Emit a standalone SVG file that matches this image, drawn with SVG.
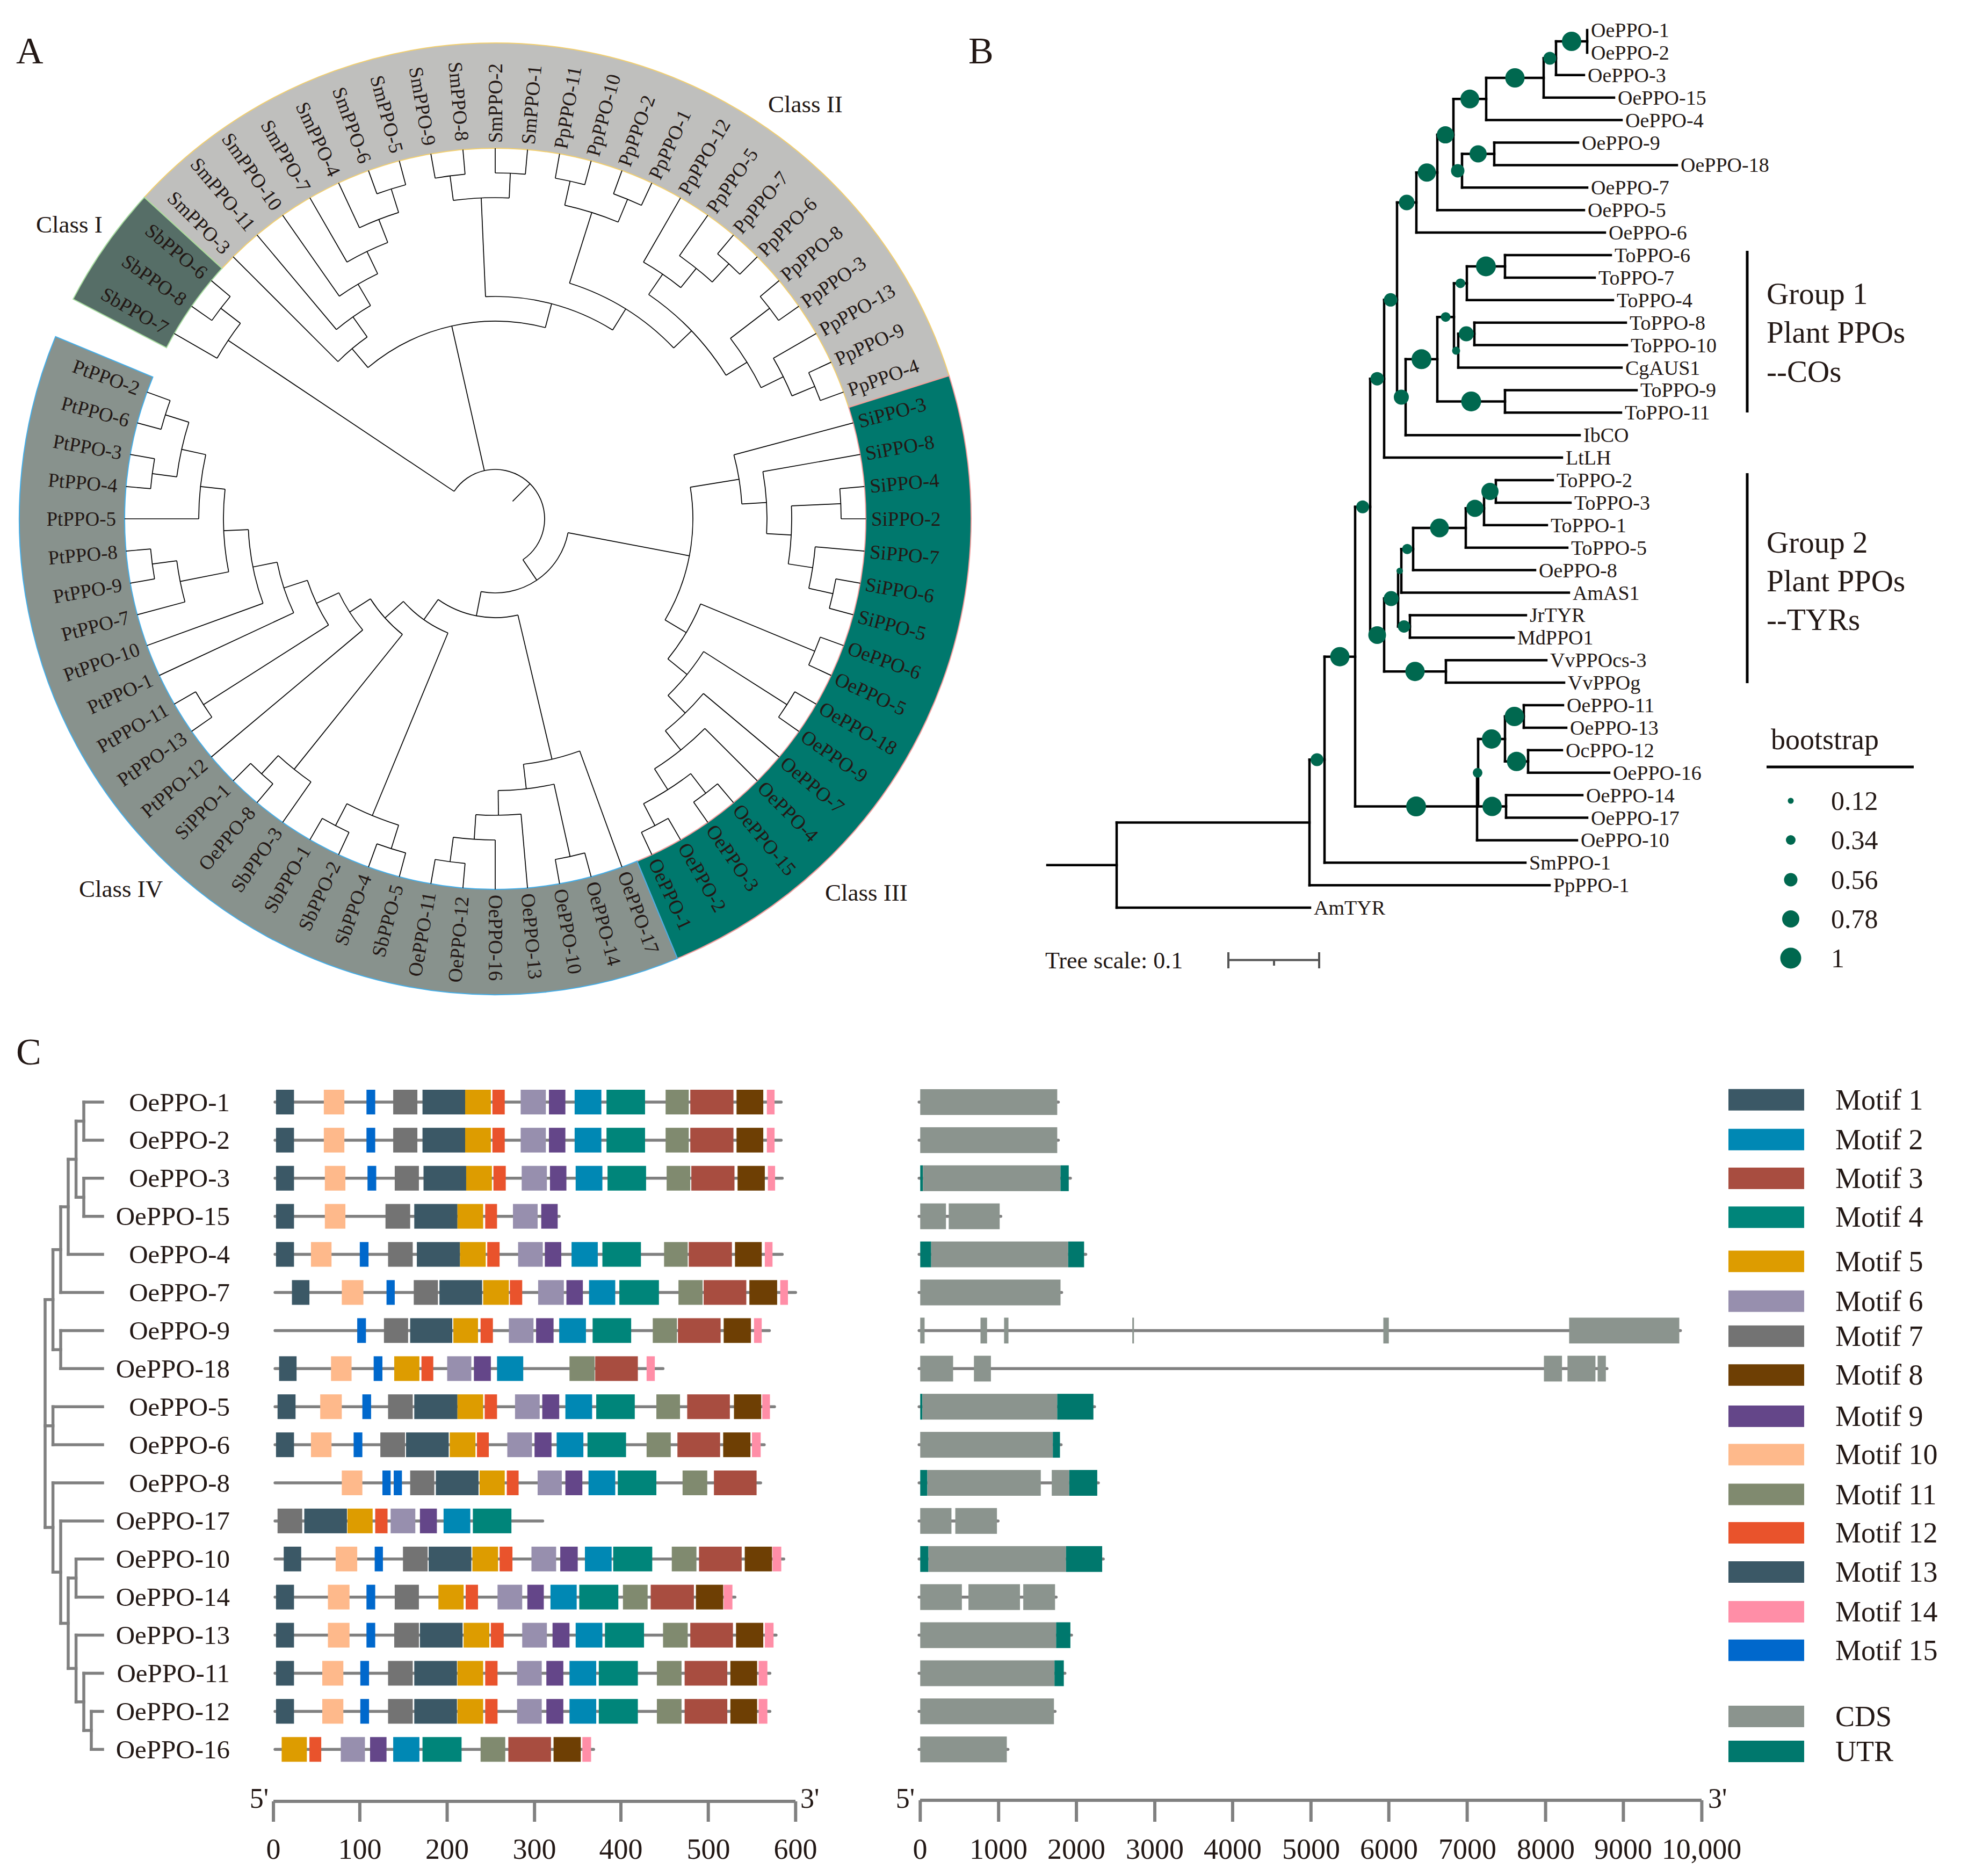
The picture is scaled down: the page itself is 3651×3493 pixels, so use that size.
<svg xmlns="http://www.w3.org/2000/svg" width="3651" height="3493" viewBox="0 0 3651 3493">
<style>
.t{font-family:"Liberation Serif","Times New Roman",serif;fill:#231815}
.br{fill:none;stroke:#000;stroke-width:1.7}
.bt{fill:none;stroke:#000;stroke-width:4.5;stroke-linecap:square}
.bs{fill:#00684f}
.gl{fill:none;stroke:#808080;stroke-width:5.5;stroke-linecap:round}
.ax{fill:none;stroke:#808080;stroke-width:6}
.m1{fill:#3b5866}.m2{fill:#0088b4}.m3{fill:#a84d40}.m4{fill:#00857a}.m5{fill:#dd9c00}
.m6{fill:#978fae}.m7{fill:#737373}.m8{fill:#6e3f04}.m9{fill:#644689}.m10{fill:#feb98b}
.m11{fill:#808a6f}.m12{fill:#e9532c}.m13{fill:#3b5866}.m14{fill:#ff8ea7}.m15{fill:#0068cc}
.cds{fill:#8b948e}.utr{fill:#00786d}
</style>
<rect width="3651" height="3493" fill="#fff"/>

<!-- Panel labels -->
<text class="t" x="30" y="118" font-size="70">A</text>
<text class="t" x="1803" y="118" font-size="70">B</text>
<text class="t" x="30" y="1982" font-size="70">C</text>

<!-- ============ PANEL A ============ -->
<g id="ringA">
<path id="classII-sector" d="M268.8 367.4A886 886 0 0 1 1767 699.6L1580.1 758.5A690 690 0 0 0 413.3 499.8Z" fill="#bfbfbd" stroke="#f2cf6f" stroke-width="2"/>
<path id="classIII-sector" d="M1767 699.6A886 886 0 0 1 1261.1 1784.6L1186 1603.5A690 690 0 0 0 1580.1 758.5Z" fill="#00786d" stroke="#f29c9c" stroke-width="2"/>
<path id="classIV-sector" d="M1261.1 1784.6A886 886 0 0 1 103.4 626.9L284.5 702A690 690 0 0 0 1186 1603.5Z" fill="#88928d" stroke="#45aee8" stroke-width="2"/>
<path id="classI-sector" d="M136.1 556.9A886 886 0 0 1 268.8 367.4L413.3 499.8A690 690 0 0 0 310 647.4Z" fill="#566e67" stroke="#a8dca0" stroke-width="2"/>
</g>

<g id="treeA" class="br" transform="translate(922 966)">
<!-- Class I -->
<path d="M644 0H690" transform="rotate(215)"/><path d="M644 0H690" transform="rotate(220)"/>
<path d="M598 0H690" transform="rotate(210)"/><path d="M598 0H644" transform="rotate(217.5)"/>
<path d="M92 0H598" transform="rotate(213.75)"/>
<circle r="644" pathLength="360" stroke-dasharray="5 999" transform="rotate(215)"/>
<circle r="598" pathLength="360" stroke-dasharray="7.5 999" transform="rotate(210)"/>
<!-- Class II -->
<path d="M644 0H690" transform="rotate(250)"/><path d="M644 0H690" transform="rotate(255)"/>
<path d="M598 0H690" transform="rotate(245)"/><path d="M598 0H644" transform="rotate(252.5)"/>
<path d="M552 0H690" transform="rotate(240)"/><path d="M552 0H598" transform="rotate(248.75)"/>
<path d="M506 0H690" transform="rotate(235)"/><path d="M506 0H552" transform="rotate(244.375)"/>
<path d="M460 0H690" transform="rotate(230)"/><path d="M460 0H506" transform="rotate(239.6875)"/>
<path d="M414 0H690" transform="rotate(225)"/><path d="M414 0H460" transform="rotate(234.84375)"/>
<path d="M644 0H690" transform="rotate(260)"/><path d="M644 0H690" transform="rotate(265)"/>
<path d="M644 0H690" transform="rotate(270)"/><path d="M644 0H690" transform="rotate(275)"/>
<path d="M598 0H644" transform="rotate(262.5)"/><path d="M598 0H644" transform="rotate(272.5)"/>
<path d="M644 0H690" transform="rotate(280)"/><path d="M644 0H690" transform="rotate(285)"/>
<path d="M644 0H690" transform="rotate(290)"/><path d="M644 0H690" transform="rotate(295)"/>
<path d="M598 0H644" transform="rotate(282.5)"/><path d="M598 0H644" transform="rotate(292.5)"/>
<path d="M644 0H690" transform="rotate(310)"/><path d="M644 0H690" transform="rotate(315)"/>
<path d="M598 0H690" transform="rotate(305)"/><path d="M598 0H644" transform="rotate(312.5)"/>
<path d="M552 0H690" transform="rotate(300)"/><path d="M552 0H598" transform="rotate(308.75)"/>
<path d="M644 0H690" transform="rotate(320)"/><path d="M644 0H690" transform="rotate(325)"/>
<path d="M644 0H690" transform="rotate(335)"/><path d="M644 0H690" transform="rotate(340)"/>
<path d="M598 0H690" transform="rotate(330)"/><path d="M598 0H644" transform="rotate(337.5)"/>
<path d="M552 0H644" transform="rotate(322.5)"/><path d="M552 0H598" transform="rotate(333.75)"/>
<path d="M506 0H552" transform="rotate(304.375)"/><path d="M506 0H552" transform="rotate(328.125)"/>
<path d="M460 0H598" transform="rotate(287.5)"/><path d="M460 0H506" transform="rotate(316.25)"/>
<path d="M414 0H598" transform="rotate(267.5)"/><path d="M414 0H460" transform="rotate(301.875)"/>
<path d="M368 0H414" transform="rotate(229.921875)"/><path d="M368 0H414" transform="rotate(284.6875)"/>
<path d="M92 0H368" transform="rotate(257.3047)"/>
<circle r="644" pathLength="360" stroke-dasharray="5 999" transform="rotate(250)"/>
<circle r="598" pathLength="360" stroke-dasharray="7.5 999" transform="rotate(245)"/>
<circle r="552" pathLength="360" stroke-dasharray="8.75 999" transform="rotate(240)"/>
<circle r="506" pathLength="360" stroke-dasharray="9.375 999" transform="rotate(235)"/>
<circle r="460" pathLength="360" stroke-dasharray="9.6875 999" transform="rotate(230)"/>
<circle r="414" pathLength="360" stroke-dasharray="9.84375 999" transform="rotate(225)"/>
<circle r="644" pathLength="360" stroke-dasharray="5 999" transform="rotate(260)"/>
<circle r="644" pathLength="360" stroke-dasharray="5 999" transform="rotate(270)"/>
<circle r="598" pathLength="360" stroke-dasharray="10 999" transform="rotate(262.5)"/>
<circle r="644" pathLength="360" stroke-dasharray="5 999" transform="rotate(280)"/>
<circle r="644" pathLength="360" stroke-dasharray="5 999" transform="rotate(290)"/>
<circle r="598" pathLength="360" stroke-dasharray="10 999" transform="rotate(282.5)"/>
<circle r="644" pathLength="360" stroke-dasharray="5 999" transform="rotate(310)"/>
<circle r="598" pathLength="360" stroke-dasharray="7.5 999" transform="rotate(305)"/>
<circle r="552" pathLength="360" stroke-dasharray="8.75 999" transform="rotate(300)"/>
<circle r="644" pathLength="360" stroke-dasharray="5 999" transform="rotate(320)"/>
<circle r="644" pathLength="360" stroke-dasharray="5 999" transform="rotate(335)"/>
<circle r="598" pathLength="360" stroke-dasharray="7.5 999" transform="rotate(330)"/>
<circle r="552" pathLength="360" stroke-dasharray="11.25 999" transform="rotate(322.5)"/>
<circle r="506" pathLength="360" stroke-dasharray="23.75 999" transform="rotate(304.375)"/>
<circle r="460" pathLength="360" stroke-dasharray="28.75 999" transform="rotate(287.5)"/>
<circle r="414" pathLength="360" stroke-dasharray="34.375 999" transform="rotate(267.5)"/>
<circle r="368" pathLength="360" stroke-dasharray="54.765625 999" transform="rotate(229.921875)"/>
<!-- Class III -->
<path d="M644 0H690" transform="rotate(355)"/><path d="M644 0H690"/>
<path d="M644 0H690" transform="rotate(10)"/><path d="M644 0H690" transform="rotate(15)"/>
<path d="M598 0H690" transform="rotate(5)"/><path d="M598 0H644" transform="rotate(12.5)"/>
<path d="M552 0H644" transform="rotate(357.5)"/><path d="M552 0H598" transform="rotate(8.75)"/>
<path d="M506 0H690" transform="rotate(350)"/><path d="M506 0H552" transform="rotate(3.125)"/>
<path d="M460 0H690" transform="rotate(345)"/><path d="M460 0H506" transform="rotate(356.5625)"/>
<path d="M644 0H690" transform="rotate(20)"/><path d="M644 0H690" transform="rotate(25)"/>
<path d="M644 0H690" transform="rotate(30)"/><path d="M644 0H690" transform="rotate(35)"/>
<path d="M644 0H690" transform="rotate(50)"/><path d="M644 0H690" transform="rotate(55)"/>
<path d="M644 0H690" transform="rotate(60)"/><path d="M644 0H690" transform="rotate(65)"/>
<path d="M598 0H644" transform="rotate(52.5)"/><path d="M598 0H644" transform="rotate(62.5)"/>
<path d="M552 0H690" transform="rotate(45)"/><path d="M552 0H598" transform="rotate(57.5)"/>
<path d="M506 0H690" transform="rotate(40)"/><path d="M506 0H552" transform="rotate(51.25)"/>
<path d="M460 0H644" transform="rotate(32.5)"/><path d="M460 0H506" transform="rotate(45.625)"/>
<path d="M414 0H644" transform="rotate(22.5)"/><path d="M414 0H460" transform="rotate(39.0625)"/>
<path d="M368 0H460" transform="rotate(350.78125)"/><path d="M368 0H414" transform="rotate(30.78125)"/>
<path d="M138 0H368" transform="rotate(10.78125)"/>
<circle r="644" pathLength="360" stroke-dasharray="5 999" transform="rotate(355)"/>
<circle r="644" pathLength="360" stroke-dasharray="5 999" transform="rotate(10)"/>
<circle r="598" pathLength="360" stroke-dasharray="7.5 999" transform="rotate(5)"/>
<circle r="552" pathLength="360" stroke-dasharray="11.25 999" transform="rotate(357.5)"/>
<circle r="506" pathLength="360" stroke-dasharray="13.125 999" transform="rotate(350)"/>
<circle r="460" pathLength="360" stroke-dasharray="11.5625 999" transform="rotate(345)"/>
<circle r="644" pathLength="360" stroke-dasharray="5 999" transform="rotate(20)"/>
<circle r="644" pathLength="360" stroke-dasharray="5 999" transform="rotate(30)"/>
<circle r="644" pathLength="360" stroke-dasharray="5 999" transform="rotate(50)"/>
<circle r="644" pathLength="360" stroke-dasharray="5 999" transform="rotate(60)"/>
<circle r="598" pathLength="360" stroke-dasharray="10 999" transform="rotate(52.5)"/>
<circle r="552" pathLength="360" stroke-dasharray="12.5 999" transform="rotate(45)"/>
<circle r="506" pathLength="360" stroke-dasharray="11.25 999" transform="rotate(40)"/>
<circle r="460" pathLength="360" stroke-dasharray="13.125 999" transform="rotate(32.5)"/>
<circle r="414" pathLength="360" stroke-dasharray="16.5625 999" transform="rotate(22.5)"/>
<circle r="368" pathLength="360" stroke-dasharray="40 999" transform="rotate(350.78125)"/>
<!-- Class IV -->
<path d="M644 0H690" transform="rotate(95)"/><path d="M644 0H690" transform="rotate(100)"/>
<path d="M598 0H690" transform="rotate(90)"/><path d="M598 0H644" transform="rotate(97.5)"/>
<path d="M552 0H690" transform="rotate(85)"/><path d="M552 0H598" transform="rotate(93.75)"/>
<path d="M644 0H690" transform="rotate(75)"/><path d="M644 0H690" transform="rotate(80)"/>
<path d="M506 0H644" transform="rotate(77.5)"/><path d="M506 0H552" transform="rotate(89.375)"/>
<path d="M460 0H690" transform="rotate(70)"/><path d="M460 0H506" transform="rotate(83.4375)"/>
<path d="M644 0H690" transform="rotate(115)"/><path d="M644 0H690" transform="rotate(120)"/>
<path d="M644 0H690" transform="rotate(105)"/><path d="M644 0H690" transform="rotate(110)"/>
<path d="M598 0H644" transform="rotate(107.5)"/><path d="M598 0H644" transform="rotate(117.5)"/>
<path d="M644 0H690" transform="rotate(130)"/><path d="M644 0H690" transform="rotate(135)"/>
<path d="M598 0H690" transform="rotate(125)"/><path d="M598 0H644" transform="rotate(132.5)"/>
<path d="M644 0H690" transform="rotate(145)"/><path d="M644 0H690" transform="rotate(150)"/>
<path d="M644 0H690" transform="rotate(170)"/><path d="M644 0H690" transform="rotate(175)"/>
<path d="M598 0H690" transform="rotate(165)"/><path d="M598 0H644" transform="rotate(172.5)"/>
<path d="M644 0H690" transform="rotate(185)"/><path d="M644 0H690" transform="rotate(190)"/>
<path d="M644 0H690" transform="rotate(195)"/><path d="M644 0H690" transform="rotate(200)"/>
<path d="M598 0H644" transform="rotate(187.5)"/><path d="M598 0H644" transform="rotate(197.5)"/>
<path d="M552 0H690" transform="rotate(180)"/><path d="M552 0H598" transform="rotate(192.5)"/>
<path d="M506 0H598" transform="rotate(168.75)"/><path d="M506 0H552" transform="rotate(186.25)"/>
<path d="M460 0H690" transform="rotate(160)"/><path d="M460 0H506" transform="rotate(177.5)"/>
<path d="M414 0H690" transform="rotate(155)"/><path d="M414 0H460" transform="rotate(168.75)"/>
<path d="M368 0H644" transform="rotate(147.5)"/><path d="M368 0H414" transform="rotate(161.875)"/>
<path d="M322 0H690" transform="rotate(140)"/><path d="M322 0H368" transform="rotate(154.6875)"/>
<path d="M276 0H598" transform="rotate(128.75)"/><path d="M276 0H322" transform="rotate(147.34375)"/>
<path d="M230 0H598" transform="rotate(112.5)"/><path d="M230 0H276" transform="rotate(138.046875)"/>
<path d="M184 0H460" transform="rotate(76.71875)"/><path d="M184 0H230" transform="rotate(125.2734)"/>
<path d="M138 0H184" transform="rotate(100.996)"/>
<path d="M92 0H138" transform="rotate(55.889)"/>
<path d="M46 0H92" transform="rotate(314.82)"/>
<circle r="644" pathLength="360" stroke-dasharray="5 999" transform="rotate(95)"/>
<circle r="598" pathLength="360" stroke-dasharray="7.5 999" transform="rotate(90)"/>
<circle r="552" pathLength="360" stroke-dasharray="8.75 999" transform="rotate(85)"/>
<circle r="644" pathLength="360" stroke-dasharray="5 999" transform="rotate(75)"/>
<circle r="506" pathLength="360" stroke-dasharray="11.875 999" transform="rotate(77.5)"/>
<circle r="460" pathLength="360" stroke-dasharray="13.4375 999" transform="rotate(70)"/>
<circle r="644" pathLength="360" stroke-dasharray="5 999" transform="rotate(115)"/>
<circle r="644" pathLength="360" stroke-dasharray="5 999" transform="rotate(105)"/>
<circle r="598" pathLength="360" stroke-dasharray="10 999" transform="rotate(107.5)"/>
<circle r="644" pathLength="360" stroke-dasharray="5 999" transform="rotate(130)"/>
<circle r="598" pathLength="360" stroke-dasharray="7.5 999" transform="rotate(125)"/>
<circle r="644" pathLength="360" stroke-dasharray="5 999" transform="rotate(145)"/>
<circle r="644" pathLength="360" stroke-dasharray="5 999" transform="rotate(170)"/>
<circle r="598" pathLength="360" stroke-dasharray="7.5 999" transform="rotate(165)"/>
<circle r="644" pathLength="360" stroke-dasharray="5 999" transform="rotate(185)"/>
<circle r="644" pathLength="360" stroke-dasharray="5 999" transform="rotate(195)"/>
<circle r="598" pathLength="360" stroke-dasharray="10 999" transform="rotate(187.5)"/>
<circle r="552" pathLength="360" stroke-dasharray="12.5 999" transform="rotate(180)"/>
<circle r="506" pathLength="360" stroke-dasharray="17.5 999" transform="rotate(168.75)"/>
<circle r="460" pathLength="360" stroke-dasharray="17.5 999" transform="rotate(160)"/>
<circle r="414" pathLength="360" stroke-dasharray="13.75 999" transform="rotate(155)"/>
<circle r="368" pathLength="360" stroke-dasharray="14.375 999" transform="rotate(147.5)"/>
<circle r="322" pathLength="360" stroke-dasharray="14.6875 999" transform="rotate(140)"/>
<circle r="276" pathLength="360" stroke-dasharray="18.59375 999" transform="rotate(128.75)"/>
<circle r="230" pathLength="360" stroke-dasharray="25.546875 999" transform="rotate(112.5)"/>
<circle r="184" pathLength="360" stroke-dasharray="48.5547 999" transform="rotate(76.71875)"/>
<circle r="138" pathLength="360" stroke-dasharray="90.2148 999" transform="rotate(10.78125)"/>
<circle r="92" pathLength="360" stroke-dasharray="202.139 999" transform="rotate(213.75)"/>
</g>

<g id="labelsA" class="t" font-size="37" dominant-baseline="central" transform="translate(922 966)">
<text transform="rotate(270) translate(700 0)">SmPPO-2</text>
<text transform="rotate(275) translate(700 0)">SmPPO-1</text>
<text transform="rotate(280) translate(700 0)">PpPPO-11</text>
<text transform="rotate(285) translate(700 0)">PpPPO-10</text>
<text transform="rotate(290) translate(700 0)">PpPPO-2</text>
<text transform="rotate(295) translate(700 0)">PpPPO-1</text>
<text transform="rotate(300) translate(700 0)">PpPPO-12</text>
<text transform="rotate(305) translate(700 0)">PpPPO-5</text>
<text transform="rotate(310) translate(700 0)">PpPPO-7</text>
<text transform="rotate(315) translate(700 0)">PpPPO-6</text>
<text transform="rotate(320) translate(700 0)">PpPPO-8</text>
<text transform="rotate(325) translate(700 0)">PpPPO-3</text>
<text transform="rotate(330) translate(700 0)">PpPPO-13</text>
<text transform="rotate(335) translate(700 0)">PpPPO-9</text>
<text transform="rotate(340) translate(700 0)">PpPPO-4</text>
<text transform="rotate(345) translate(700 0)">SiPPO-3</text>
<text transform="rotate(350) translate(700 0)">SiPPO-8</text>
<text transform="rotate(355) translate(700 0)">SiPPO-4</text>
<text transform="translate(700 0)">SiPPO-2</text>
<text transform="rotate(5) translate(700 0)">SiPPO-7</text>
<text transform="rotate(10) translate(700 0)">SiPPO-6</text>
<text transform="rotate(15) translate(700 0)">SiPPO-5</text>
<text transform="rotate(20) translate(700 0)">OePPO-6</text>
<text transform="rotate(25) translate(700 0)">OePPO-5</text>
<text transform="rotate(30) translate(700 0)">OePPO-18</text>
<text transform="rotate(35) translate(700 0)">OePPO-9</text>
<text transform="rotate(40) translate(700 0)">OePPO-7</text>
<text transform="rotate(45) translate(700 0)">OePPO-4</text>
<text transform="rotate(50) translate(700 0)">OePPO-15</text>
<text transform="rotate(55) translate(700 0)">OePPO-3</text>
<text transform="rotate(60) translate(700 0)">OePPO-2</text>
<text transform="rotate(65) translate(700 0)">OePPO-1</text>
<text transform="rotate(70) translate(700 0)">OePPO-17</text>
<text transform="rotate(75) translate(700 0)">OePPO-14</text>
<text transform="rotate(80) translate(700 0)">OePPO-10</text>
<text transform="rotate(85) translate(700 0)">OePPO-13</text>
<text transform="rotate(90) translate(700 0)">OePPO-16</text>
<g text-anchor="end">
<text transform="rotate(-85) translate(-706 0)">OePPO-12</text>
<text transform="rotate(-80) translate(-706 0)">OePPO-11</text>
<text transform="rotate(-75) translate(-706 0)">SbPPO-5</text>
<text transform="rotate(-70) translate(-706 0)">SbPPO-4</text>
<text transform="rotate(-65) translate(-706 0)">SbPPO-2</text>
<text transform="rotate(-60) translate(-706 0)">SbPPO-1</text>
<text transform="rotate(-55) translate(-706 0)">SbPPO-3</text>
<text transform="rotate(-50) translate(-706 0)">OePPO-8</text>
<text transform="rotate(-45) translate(-706 0)">SiPPO-1</text>
<text transform="rotate(-40) translate(-706 0)">PtPPO-12</text>
<text transform="rotate(-35) translate(-706 0)">PtPPO-13</text>
<text transform="rotate(-30) translate(-706 0)">PtPPO-11</text>
<text transform="rotate(-25) translate(-706 0)">PtPPO-1</text>
<text transform="rotate(-20) translate(-706 0)">PtPPO-10</text>
<text transform="rotate(-15) translate(-706 0)">PtPPO-7</text>
<text transform="rotate(-10) translate(-706 0)">PtPPO-9</text>
<text transform="rotate(-5) translate(-706 0)">PtPPO-8</text>
<text transform="translate(-706 0)">PtPPO-5</text>
<text transform="rotate(5) translate(-706 0)">PtPPO-4</text>
<text transform="rotate(10) translate(-706 0)">PtPPO-3</text>
<text transform="rotate(15) translate(-706 0)">PtPPO-6</text>
<text transform="rotate(20) translate(-706 0)">PtPPO-2</text>
<text transform="rotate(30) translate(-706 0)">SbPPO-7</text>
<text transform="rotate(35) translate(-706 0)">SbPPO-8</text>
<text transform="rotate(40) translate(-706 0)">SbPPO-6</text>
<text transform="rotate(45) translate(-706 0)">SmPPO-3</text>
<text transform="rotate(50) translate(-706 0)">SmPPO-11</text>
<text transform="rotate(55) translate(-706 0)">SmPPO-10</text>
<text transform="rotate(60) translate(-706 0)">SmPPO-7</text>
<text transform="rotate(65) translate(-706 0)">SmPPO-4</text>
<text transform="rotate(70) translate(-706 0)">SmPPO-6</text>
<text transform="rotate(75) translate(-706 0)">SmPPO-5</text>
<text transform="rotate(80) translate(-706 0)">SmPPO-9</text>
<text transform="rotate(85) translate(-706 0)">SmPPO-8</text>
</g>
</g>

<g id="classLabels" class="t" font-size="45">
<text x="67" y="433">Class I</text>
<text x="1430" y="209">Class II</text>
<text x="1536" y="1677">Class III</text>
<text x="147" y="1670">Class IV</text>
</g>

<!-- ============ PANEL B ============ -->
<g id="treeB" class="bt">
<path d="M2955 56V97.9M2897 77V139.8M2874 108.4V181.7M2767 145V223.6M2782 265.5V307.4M2722 286.5V349.3M2706 184.3V317.9M2676 251.1V391.2M2637 321.2V433.1M2802 475V516.9M2731 496V558.8M2745 600.7V642.6M2715 621.6V684.5M2707 527.4V653M2802 726.4V768.3M2676 590.2V747.4M2617 668.8V810.2M2601 377.1V739.5M2577 558.3V852.1M2785 894V935.9M2763 915V977.8M2729 946.4V1019.7M2631 983V1061.6M2609 1022.3V1103.5M2625 1145.4V1187.3M2603 1062.9V1166.4M2692 1229.2V1271.1M2577 1114.6V1250.2M2551 705.2V1182.4M2837 1313V1354.9M2845 1396.8V1438.7M2802 1334V1417.8M2804 1480.6V1522.5M2752 1375.9V1501.6M2750 1438.8V1564.4M2523 943.8V1501.6M2466 1222.7V1606.3M2438 1414.5V1648.2M2079 1531.4V1690.1"/>
<path d="M2897 139.8H2949M2874 181.7H3005M2767 223.6H3019M2782 265.5H2938M2782 307.4H3122M2722 349.3H2955M2676 391.2H2949M2637 433.1H2988M2802 475H2999M2802 516.9H2969M2731 558.8H3003M2745 600.7H3027M2745 642.6H3029M2715 684.5H3019M2802 726.4H3047M2802 768.3H3018M2617 810.2H2941M2577 852.1H2908M2785 894H2891M2785 935.9H2924M2763 977.8H2880M2729 1019.7H2918M2631 1061.6H2858M2609 1103.5H2921M2625 1145.4H2841M2625 1187.3H2818M2692 1229.2H2879M2692 1271.1H2912M2837 1313H2910M2837 1354.9H2916M2845 1396.8H2908M2845 1438.7H2996M2804 1480.6H2946M2804 1522.5H2955M2750 1564.4H2936M2466 1606.3H2840M2438 1648.2H2885M2079 1690.1H2439"/>
<path d="M2897 77H2955M2874 108.4H2897M2767 145H2874M2706 184.3H2767M2722 286.5H2782M2706 317.9H2722M2676 251.1H2706M2637 321.2H2676M2601 377.1H2637M2731 496H2802M2707 527.4H2731M2715 621.6H2745M2707 653H2715M2676 590.2H2707M2676 747.4H2802M2617 668.8H2676M2601 739.5H2617M2577 558.3H2601M2551 705.2H2577M2763 915H2785M2729 946.4H2763M2631 983H2729M2609 1022.3H2631M2603 1062.9H2609M2603 1166.4H2625M2577 1114.6H2603M2577 1250.2H2692M2551 1182.4H2577M2523 943.8H2551M2802 1334H2837M2802 1417.8H2845M2752 1375.9H2802M2752 1501.6H2804M2750 1438.8H2752M2523 1501.6H2750M2466 1222.7H2523M2438 1414.5H2466M2079 1531.4H2438M1950 1610.7H2079"/>
</g>
<g id="bootstrapB" class="bs">
<circle cx="2926" cy="77" r="18"/><circle cx="2885.5" cy="108.4" r="12"/><circle cx="2820.5" cy="145" r="18"/>
<circle cx="2736.5" cy="184.3" r="17.5"/><circle cx="2752" cy="286.5" r="16"/><circle cx="2714" cy="317.9" r="12.5"/>
<circle cx="2691" cy="251.1" r="16"/><circle cx="2656.5" cy="321.2" r="17"/><circle cx="2619" cy="377.1" r="14.5"/>
<circle cx="2766.5" cy="496" r="18.5"/><circle cx="2719" cy="527.4" r="9"/><circle cx="2730" cy="621.6" r="14"/>
<circle cx="2711" cy="653" r="7.5"/><circle cx="2691.5" cy="590.2" r="9"/><circle cx="2739" cy="747.4" r="18.5"/>
<circle cx="2646.5" cy="668.8" r="18.5"/><circle cx="2609" cy="739.5" r="14"/><circle cx="2589" cy="558.3" r="12.5"/>
<circle cx="2564" cy="705.2" r="12.5"/><circle cx="2774" cy="915" r="16"/><circle cx="2746" cy="946.4" r="16"/>
<circle cx="2680" cy="983" r="17.5"/><circle cx="2620" cy="1022.3" r="9.5"/><circle cx="2606" cy="1062.9" r="6"/>
<circle cx="2614" cy="1166.4" r="11.5"/><circle cx="2590" cy="1114.6" r="14"/><circle cx="2634.5" cy="1250.2" r="18"/>
<circle cx="2564" cy="1182.4" r="16.5"/><circle cx="2537" cy="943.8" r="12"/><circle cx="2819.5" cy="1334" r="18"/>
<circle cx="2823.5" cy="1417.8" r="18"/><circle cx="2777" cy="1375.9" r="18"/><circle cx="2778" cy="1501.6" r="18"/>
<circle cx="2751" cy="1438.8" r="9"/><circle cx="2636.5" cy="1501.6" r="18.5"/><circle cx="2494.5" cy="1222.7" r="18"/>
<circle cx="2452" cy="1414.5" r="12"/>
</g>
<g id="labelsB" class="t" font-size="38" dominant-baseline="central">
<text x="2962" y="56">OePPO-1</text><text x="2962" y="97.9">OePPO-2</text><text x="2956" y="139.8">OePPO-3</text>
<text x="3012" y="181.7">OePPO-15</text><text x="3026" y="223.6">OePPO-4</text><text x="2945" y="265.5">OePPO-9</text>
<text x="3129" y="307.4">OePPO-18</text><text x="2962" y="349.3">OePPO-7</text><text x="2956" y="391.2">OePPO-5</text>
<text x="2995" y="433.1">OePPO-6</text><text x="3006" y="475">ToPPO-6</text><text x="2976" y="516.9">ToPPO-7</text>
<text x="3010" y="558.8">ToPPO-4</text><text x="3034" y="600.7">ToPPO-8</text><text x="3036" y="642.6">ToPPO-10</text>
<text x="3026" y="684.5">CgAUS1</text><text x="3054" y="726.4">ToPPO-9</text><text x="3025" y="768.3">ToPPO-11</text>
<text x="2948" y="810.2">IbCO</text><text x="2915" y="852.1">LtLH</text><text x="2898" y="894">ToPPO-2</text>
<text x="2931" y="935.9">ToPPO-3</text><text x="2887" y="977.8">ToPPO-1</text><text x="2925" y="1019.7">ToPPO-5</text>
<text x="2865" y="1061.6">OePPO-8</text><text x="2928" y="1103.5">AmAS1</text><text x="2848" y="1145.4">JrTYR</text>
<text x="2825" y="1187.3">MdPPO1</text><text x="2886" y="1229.2">VvPPOcs-3</text><text x="2919" y="1271.1">VvPPOg</text>
<text x="2917" y="1313">OePPO-11</text><text x="2923" y="1354.9">OePPO-13</text><text x="2915" y="1396.8">OcPPO-12</text>
<text x="3003" y="1438.7">OePPO-16</text><text x="2953" y="1480.6">OePPO-14</text><text x="2962" y="1522.5">OePPO-17</text>
<text x="2943" y="1564.4">OePPO-10</text><text x="2847" y="1606.3">SmPPO-1</text><text x="2892" y="1648.2">PpPPO-1</text>
<text x="2446" y="1690.1">AmTYR</text>
</g>
<g id="groupsB">
<path d="M3253 467V768M3253 881V1272" stroke="#000" stroke-width="5"/>
<g class="t" font-size="57">
<text x="3289" y="566">Group 1</text><text x="3289" y="638">Plant PPOs</text><text x="3289" y="711">--COs</text>
<text x="3289" y="1029">Group 2</text><text x="3289" y="1101">Plant PPOs</text><text x="3289" y="1173">--TYRs</text>
</g>
</g>
<g id="legendB">
<text class="t" x="3297" y="1395" font-size="54">bootstrap</text>
<path d="M3289 1428H3563" stroke="#000" stroke-width="5"/>
<g class="bs"><circle cx="3334" cy="1491" r="5.5"/><circle cx="3334" cy="1564" r="9"/><circle cx="3334" cy="1638" r="12.5"/><circle cx="3334" cy="1711" r="16"/><circle cx="3334" cy="1784" r="19.5"/></g>
<g class="t" font-size="50" dominant-baseline="central">
<text x="3409" y="1491">0.12</text><text x="3409" y="1564">0.34</text><text x="3409" y="1638">0.56</text><text x="3409" y="1711">0.78</text><text x="3409" y="1784">1</text>
</g>
<text class="t" x="1946" y="1803" font-size="44">Tree scale: 0.1</text>
<path d="M2287 1787.5H2456M2287 1773V1803M2456 1773V1803M2372 1787.5V1798" stroke="#555" stroke-width="4" fill="none"/>
</g>

<!-- ============ PANEL C ============ -->
<g id="treeC" fill="none" stroke="#808080" stroke-width="5.5" stroke-linecap="square">
<path d="M156 2052H191M156 2122.9H191M156 2193.8H191M156 2264.7H191M127 2335.6H191M113 2406.5H191M113 2477.4H191M113 2548.3H191M98.6 2619.2H191M98.6 2690.1H191M98.6 2761H191M113 2831.9H191M141.6 2902.8H191M141.6 2973.7H191M141.6 3044.6H191M156 3115.5H191M170 3186.4H191M170 3257.3H191"/>
<path d="M156 2052V2122.9M156 2193.8V2264.7M141.6 2087.5V2229.3M127 2158.4V2335.6M113 2247V2406.5M113 2477.4V2548.3M98.6 2326.8V2512.9M98.6 2619.2V2690.1M84 2419.8V2844.1M141.6 2902.8V2973.7M170 3186.4V3257.3M156 3115.5V3221.9M141.6 3044.6V3168.7M127 2938.3V3106.6M113 2831.9V3022.5M98.6 2761V2927.2"/>
<path d="M141.6 2087.5H156M141.6 2229.3H156M127 2158.4H141.6M113 2247H127M98.6 2326.8H113M98.6 2512.9H113M84 2419.8H98.6M84 2654.7H98.6M127 2938.3H141.6M156 3221.9H170M141.6 3168.7H156M127 3106.6H141.6M113 3022.5H127M98.6 2927.2H113M84 2844.1H98.6"/>
</g>
<g id="namesC" class="t" font-size="49" text-anchor="end" dominant-baseline="central">
<text x="428" y="2052">OePPO-1</text><text x="428" y="2122.9">OePPO-2</text><text x="428" y="2193.8">OePPO-3</text>
<text x="428" y="2264.7">OePPO-15</text><text x="428" y="2335.6">OePPO-4</text><text x="428" y="2406.5">OePPO-7</text>
<text x="428" y="2477.4">OePPO-9</text><text x="428" y="2548.3">OePPO-18</text><text x="428" y="2619.2">OePPO-5</text>
<text x="428" y="2690.1">OePPO-6</text><text x="428" y="2761">OePPO-8</text><text x="428" y="2831.9">OePPO-17</text>
<text x="428" y="2902.8">OePPO-10</text><text x="428" y="2973.7">OePPO-14</text><text x="428" y="3044.6">OePPO-13</text>
<text x="428" y="3115.5">OePPO-11</text><text x="428" y="3186.4">OePPO-12</text><text x="428" y="3257.3">OePPO-16</text>
</g>

<g id="motifs" transform="matrix(0.95694 0 0 1 0 0)">
<g id="mr0" transform="translate(0 2052)"><path class="gl" d="M535 0H1520"/>
<rect class="m1" x="537" y="-23" width="35" height="46"/><rect class="m10" x="630" y="-23" width="40" height="46"/><rect class="m15" x="713" y="-23" width="17" height="46"/><rect class="m7" x="765" y="-23" width="47" height="46"/><rect class="m13" x="822" y="-23" width="83" height="46"/><rect class="m5" x="905" y="-23" width="50" height="46"/><rect class="m12" x="958" y="-23" width="24" height="46"/><rect class="m6" x="1013" y="-23" width="49" height="46"/><rect class="m9" x="1068" y="-23" width="32" height="46"/><rect class="m2" x="1118" y="-23" width="52" height="46"/><rect class="m4" x="1180" y="-23" width="75" height="46"/><rect class="m11" x="1295" y="-23" width="45" height="46"/><rect class="m3" x="1343" y="-23" width="84" height="46"/><rect class="m8" x="1433" y="-23" width="52" height="46"/><rect class="m14" x="1492" y="-23" width="15" height="46"/></g>
<use href="#mr0" y="70.9"/>
<g transform="translate(0 2193.8)"><path class="gl" d="M535 0H1522"/>
<rect class="m1" x="537" y="-23" width="35" height="46"/><rect class="m10" x="632" y="-23" width="40" height="46"/><rect class="m15" x="715" y="-23" width="17" height="46"/><rect class="m7" x="768" y="-23" width="47" height="46"/><rect class="m13" x="824" y="-23" width="83" height="46"/><rect class="m5" x="907" y="-23" width="50" height="46"/><rect class="m12" x="960" y="-23" width="24" height="46"/><rect class="m6" x="1015" y="-23" width="49" height="46"/><rect class="m9" x="1070" y="-23" width="32" height="46"/><rect class="m2" x="1120" y="-23" width="52" height="46"/><rect class="m4" x="1182" y="-23" width="75" height="46"/><rect class="m11" x="1297" y="-23" width="46" height="46"/><rect class="m3" x="1345" y="-23" width="84" height="46"/><rect class="m8" x="1435" y="-23" width="53" height="46"/><rect class="m14" x="1494" y="-23" width="14" height="46"/></g>
<g transform="translate(0 2264.7)"><path class="gl" d="M535 0H1088"/>
<rect class="m1" x="537" y="-23" width="35" height="46"/><rect class="m10" x="632" y="-23" width="40" height="46"/><rect class="m7" x="750" y="-23" width="48" height="46"/><rect class="m13" x="806" y="-23" width="84" height="46"/><rect class="m5" x="890" y="-23" width="50" height="46"/><rect class="m12" x="944" y="-23" width="23" height="46"/><rect class="m6" x="998" y="-23" width="48" height="46"/><rect class="m9" x="1053" y="-23" width="32" height="46"/></g>
<g transform="translate(0 2335.6)"><path class="gl" d="M535 0H1522"/>
<rect class="m1" x="537" y="-23" width="35" height="46"/><rect class="m10" x="605" y="-23" width="40" height="46"/><rect class="m15" x="700" y="-23" width="17" height="46"/><rect class="m7" x="755" y="-23" width="48" height="46"/><rect class="m13" x="811" y="-23" width="84" height="46"/><rect class="m5" x="895" y="-23" width="50" height="46"/><rect class="m12" x="948" y="-23" width="24" height="46"/><rect class="m6" x="1008" y="-23" width="48" height="46"/><rect class="m9" x="1060" y="-23" width="32" height="46"/><rect class="m2" x="1112" y="-23" width="51" height="46"/><rect class="m4" x="1172" y="-23" width="75" height="46"/><rect class="m11" x="1292" y="-23" width="46" height="46"/><rect class="m3" x="1340" y="-23" width="84" height="46"/><rect class="m8" x="1430" y="-23" width="52" height="46"/><rect class="m14" x="1488" y="-23" width="15" height="46"/></g>
<g transform="translate(0 2406.5)"><path class="gl" d="M535 0H1548"/>
<rect class="m1" x="568" y="-23" width="34" height="46"/><rect class="m10" x="665" y="-23" width="42" height="46"/><rect class="m15" x="752" y="-23" width="16" height="46"/><rect class="m7" x="805" y="-23" width="47" height="46"/><rect class="m13" x="855" y="-23" width="83" height="46"/><rect class="m5" x="940" y="-23" width="50" height="46"/><rect class="m12" x="992" y="-23" width="24" height="46"/><rect class="m6" x="1047" y="-23" width="50" height="46"/><rect class="m9" x="1102" y="-23" width="32" height="46"/><rect class="m2" x="1146" y="-23" width="51" height="46"/><rect class="m4" x="1205" y="-23" width="77" height="46"/><rect class="m11" x="1320" y="-23" width="47" height="46"/><rect class="m3" x="1369" y="-23" width="83" height="46"/><rect class="m8" x="1458" y="-23" width="54" height="46"/><rect class="m14" x="1518" y="-23" width="15" height="46"/></g>
<g transform="translate(0 2477.4)"><path class="gl" d="M535 0H1497"/>
<rect class="m15" x="695" y="-23" width="17" height="46"/><rect class="m7" x="747" y="-23" width="47" height="46"/><rect class="m13" x="798" y="-23" width="82" height="46"/><rect class="m5" x="882" y="-23" width="48" height="46"/><rect class="m12" x="935" y="-23" width="24" height="46"/><rect class="m6" x="990" y="-23" width="48" height="46"/><rect class="m9" x="1043" y="-23" width="34" height="46"/><rect class="m2" x="1088" y="-23" width="52" height="46"/><rect class="m4" x="1153" y="-23" width="75" height="46"/><rect class="m11" x="1270" y="-23" width="47" height="46"/><rect class="m3" x="1319" y="-23" width="83" height="46"/><rect class="m8" x="1408" y="-23" width="53" height="46"/><rect class="m14" x="1467" y="-23" width="15" height="46"/></g>
<g transform="translate(0 2548.3)"><path class="gl" d="M535 0H1290"/>
<rect class="m1" x="543" y="-23" width="34" height="46"/><rect class="m10" x="644" y="-23" width="40" height="46"/><rect class="m15" x="727" y="-23" width="17" height="46"/><rect class="m5" x="767" y="-23" width="49" height="46"/><rect class="m12" x="820" y="-23" width="23" height="46"/><rect class="m6" x="870" y="-23" width="47" height="46"/><rect class="m9" x="922" y="-23" width="33" height="46"/><rect class="m2" x="967" y="-23" width="51" height="46"/><rect class="m11" x="1108" y="-23" width="49" height="46"/><rect class="m3" x="1158" y="-23" width="83" height="46"/><rect class="m14" x="1258" y="-23" width="16" height="46"/></g>
<g transform="translate(0 2619.2)"><path class="gl" d="M535 0H1507"/>
<rect class="m1" x="540" y="-23" width="35" height="46"/><rect class="m10" x="623" y="-23" width="42" height="46"/><rect class="m15" x="705" y="-23" width="17" height="46"/><rect class="m7" x="755" y="-23" width="48" height="46"/><rect class="m13" x="806" y="-23" width="84" height="46"/><rect class="m5" x="890" y="-23" width="50" height="46"/><rect class="m12" x="943" y="-23" width="24" height="46"/><rect class="m6" x="1002" y="-23" width="48" height="46"/><rect class="m9" x="1055" y="-23" width="33" height="46"/><rect class="m2" x="1100" y="-23" width="52" height="46"/><rect class="m4" x="1160" y="-23" width="75" height="46"/><rect class="m11" x="1277" y="-23" width="46" height="46"/><rect class="m3" x="1337" y="-23" width="83" height="46"/><rect class="m8" x="1428" y="-23" width="53" height="46"/><rect class="m14" x="1483" y="-23" width="15" height="46"/></g>
<g transform="translate(0 2690.1)"><path class="gl" d="M535 0H1487"/>
<rect class="m1" x="537" y="-23" width="35" height="46"/><rect class="m10" x="605" y="-23" width="40" height="46"/><rect class="m15" x="688" y="-23" width="17" height="46"/><rect class="m7" x="740" y="-23" width="48" height="46"/><rect class="m13" x="790" y="-23" width="83" height="46"/><rect class="m5" x="875" y="-23" width="50" height="46"/><rect class="m12" x="928" y="-23" width="23" height="46"/><rect class="m6" x="987" y="-23" width="48" height="46"/><rect class="m9" x="1040" y="-23" width="33" height="46"/><rect class="m2" x="1083" y="-23" width="52" height="46"/><rect class="m4" x="1143" y="-23" width="75" height="46"/><rect class="m11" x="1258" y="-23" width="47" height="46"/><rect class="m3" x="1318" y="-23" width="83" height="46"/><rect class="m8" x="1407" y="-23" width="53" height="46"/><rect class="m14" x="1463" y="-23" width="17" height="46"/></g>
<g transform="translate(0 2761)"><path class="gl" d="M535 0H1480"/>
<rect class="m10" x="665" y="-23" width="40" height="46"/><rect class="m15" x="744" y="-23" width="16" height="46"/><rect class="m15" x="766" y="-23" width="16" height="46"/><rect class="m7" x="798" y="-23" width="47" height="46"/><rect class="m13" x="848" y="-23" width="83" height="46"/><rect class="m5" x="933" y="-23" width="49" height="46"/><rect class="m12" x="986" y="-23" width="23" height="46"/><rect class="m6" x="1046" y="-23" width="47" height="46"/><rect class="m9" x="1100" y="-23" width="33" height="46"/><rect class="m2" x="1145" y="-23" width="52" height="46"/><rect class="m4" x="1202" y="-23" width="75" height="46"/><rect class="m11" x="1328" y="-23" width="48" height="46"/><rect class="m3" x="1389" y="-23" width="83" height="46"/></g>
<g transform="translate(0 2831.9)"><path class="gl" d="M535 0H1056"/>
<rect class="m7" x="540" y="-23" width="48" height="46"/><rect class="m13" x="592" y="-23" width="83" height="46"/><rect class="m5" x="676" y="-23" width="49" height="46"/><rect class="m12" x="730" y="-23" width="24" height="46"/><rect class="m6" x="760" y="-23" width="48" height="46"/><rect class="m9" x="817" y="-23" width="33" height="46"/><rect class="m2" x="863" y="-23" width="52" height="46"/><rect class="m4" x="920" y="-23" width="75" height="46"/></g>
<g transform="translate(0 2902.8)"><path class="gl" d="M535 0H1525"/>
<rect class="m1" x="552" y="-23" width="34" height="46"/><rect class="m10" x="653" y="-23" width="42" height="46"/><rect class="m15" x="729" y="-23" width="16" height="46"/><rect class="m7" x="784" y="-23" width="48" height="46"/><rect class="m13" x="834" y="-23" width="83" height="46"/><rect class="m5" x="919" y="-23" width="50" height="46"/><rect class="m12" x="972" y="-23" width="25" height="46"/><rect class="m6" x="1034" y="-23" width="48" height="46"/><rect class="m9" x="1090" y="-23" width="34" height="46"/><rect class="m2" x="1138" y="-23" width="52" height="46"/><rect class="m4" x="1193" y="-23" width="76" height="46"/><rect class="m11" x="1307" y="-23" width="48" height="46"/><rect class="m3" x="1360" y="-23" width="83" height="46"/><rect class="m8" x="1449" y="-23" width="53" height="46"/><rect class="m14" x="1503" y="-23" width="17" height="46"/></g>
<g transform="translate(0 2973.7)"><path class="gl" d="M535 0H1430"/>
<rect class="m1" x="537" y="-23" width="35" height="46"/><rect class="m10" x="638" y="-23" width="42" height="46"/><rect class="m15" x="713" y="-23" width="17" height="46"/><rect class="m7" x="768" y="-23" width="47" height="46"/><rect class="m5" x="853" y="-23" width="49" height="46"/><rect class="m12" x="906" y="-23" width="24" height="46"/><rect class="m6" x="968" y="-23" width="48" height="46"/><rect class="m9" x="1026" y="-23" width="32" height="46"/><rect class="m2" x="1071" y="-23" width="51" height="46"/><rect class="m4" x="1127" y="-23" width="76" height="46"/><rect class="m11" x="1212" y="-23" width="48" height="46"/><rect class="m3" x="1266" y="-23" width="84" height="46"/><rect class="m8" x="1354" y="-23" width="53" height="46"/><rect class="m14" x="1408" y="-23" width="17" height="46"/></g>
<g transform="translate(0 3044.6)"><path class="gl" d="M535 0H1510"/>
<rect class="m1" x="537" y="-23" width="35" height="46"/><rect class="m10" x="638" y="-23" width="42" height="46"/><rect class="m15" x="713" y="-23" width="17" height="46"/><rect class="m7" x="767" y="-23" width="48" height="46"/><rect class="m13" x="817" y="-23" width="83" height="46"/><rect class="m5" x="902" y="-23" width="50" height="46"/><rect class="m12" x="955" y="-23" width="25" height="46"/><rect class="m6" x="1016" y="-23" width="48" height="46"/><rect class="m9" x="1075" y="-23" width="33" height="46"/><rect class="m2" x="1120" y="-23" width="52" height="46"/><rect class="m4" x="1177" y="-23" width="76" height="46"/><rect class="m11" x="1290" y="-23" width="48" height="46"/><rect class="m3" x="1343" y="-23" width="83" height="46"/><rect class="m8" x="1432" y="-23" width="53" height="46"/><rect class="m14" x="1488" y="-23" width="17" height="46"/></g>
<g id="mr15" transform="translate(0 3115.5)"><path class="gl" d="M535 0H1498"/>
<rect class="m1" x="537" y="-23" width="35" height="46"/><rect class="m10" x="627" y="-23" width="41" height="46"/><rect class="m15" x="701" y="-23" width="17" height="46"/><rect class="m7" x="755" y="-23" width="48" height="46"/><rect class="m13" x="806" y="-23" width="83" height="46"/><rect class="m5" x="890" y="-23" width="50" height="46"/><rect class="m12" x="944" y="-23" width="24" height="46"/><rect class="m6" x="1006" y="-23" width="48" height="46"/><rect class="m9" x="1063" y="-23" width="33" height="46"/><rect class="m2" x="1108" y="-23" width="52" height="46"/><rect class="m4" x="1165" y="-23" width="76" height="46"/><rect class="m11" x="1278" y="-23" width="48" height="46"/><rect class="m3" x="1332" y="-23" width="83" height="46"/><rect class="m8" x="1421" y="-23" width="52" height="46"/><rect class="m14" x="1476" y="-23" width="17" height="46"/></g>
<use href="#mr15" y="70.9"/>
<g transform="translate(0 3257.3)"><path class="gl" d="M535 0H1155"/>
<rect class="m5" x="548" y="-23" width="49" height="46"/><rect class="m12" x="602" y="-23" width="23" height="46"/><rect class="m6" x="663" y="-23" width="47" height="46"/><rect class="m9" x="720" y="-23" width="32" height="46"/><rect class="m2" x="765" y="-23" width="51" height="46"/><rect class="m4" x="822" y="-23" width="76" height="46"/><rect class="m11" x="935" y="-23" width="48" height="46"/><rect class="m3" x="989" y="-23" width="83" height="46"/><rect class="m8" x="1077" y="-23" width="53" height="46"/><rect class="m14" x="1133" y="-23" width="17" height="46"/></g>
</g>

<g id="motifAxis">
<path class="ax" d="M509 3354H1481M509.1 3354V3392M669.9 3354V3392M832.5 3354V3392M995.2 3354V3392M1156 3354V3392M1318.7 3354V3392M1481.3 3354V3392"/>
<g class="t" font-size="54" text-anchor="middle">
<text x="509" y="3461">0</text><text x="670" y="3461">100</text><text x="832.5" y="3461">200</text><text x="995" y="3461">300</text><text x="1156" y="3461">400</text><text x="1319" y="3461">500</text><text x="1481" y="3461">600</text>
</g>
<text class="t" x="500" y="3366" font-size="52" text-anchor="end">5'</text>
<text class="t" x="1490" y="3366" font-size="52">3'</text>
</g>

<g id="genes" transform="matrix(1.0204 0 0 1 1650 0)">
<g id="gr0" transform="translate(0 2052)"><path class="gl" d="M60 0H314"/><rect class="cds" x="62" y="-24" width="250" height="48"/></g>
<use href="#gr0" y="70.9"/>
<g transform="translate(0 2193.8)"><path class="gl" d="M60 0H336"/><rect class="utr" x="62" y="-24" width="5" height="48"/><rect class="cds" x="67" y="-24" width="251" height="48"/><rect class="utr" x="318" y="-24" width="15" height="48"/></g>
<g transform="translate(0 2264.7)"><path class="gl" d="M60 0H209"/><rect class="cds" x="62" y="-24" width="47" height="48"/><rect class="cds" x="114" y="-24" width="93" height="48"/></g>
<g transform="translate(0 2335.6)"><path class="gl" d="M60 0H364"/><rect class="utr" x="62" y="-24" width="20" height="48"/><rect class="cds" x="82" y="-24" width="250" height="48"/><rect class="utr" x="332" y="-24" width="29" height="48"/></g>
<g transform="translate(0 2406.5)"><path class="gl" d="M60 0H320"/><rect class="cds" x="62" y="-24" width="256" height="48"/></g>
<g transform="translate(0 2477.4)"><path class="gl" d="M60 0H1449"/><rect class="cds" x="62" y="-24" width="8" height="48"/><rect class="cds" x="172" y="-24" width="12" height="48"/><rect class="cds" x="215" y="-24" width="8" height="48"/><rect class="cds" x="449" y="-24" width="3" height="48"/><rect class="cds" x="907" y="-24" width="10" height="48"/><rect class="cds" x="1246" y="-24" width="201" height="48"/></g>
<g transform="translate(0 2548.3)"><path class="gl" d="M60 0H1315"/><rect class="cds" x="62" y="-24" width="60" height="48"/><rect class="cds" x="160" y="-24" width="31" height="48"/><rect class="cds" x="1200" y="-24" width="33" height="48"/><rect class="cds" x="1243" y="-24" width="51" height="48"/><rect class="cds" x="1298" y="-24" width="15" height="48"/></g>
<g transform="translate(0 2619.2)"><path class="gl" d="M60 0H380"/><rect class="utr" x="62" y="-24" width="4" height="48"/><rect class="cds" x="66" y="-24" width="246" height="48"/><rect class="utr" x="312" y="-24" width="66" height="48"/></g>
<g transform="translate(0 2690.1)"><path class="gl" d="M60 0H319"/><rect class="cds" x="62" y="-24" width="242" height="48"/><rect class="utr" x="304" y="-24" width="13" height="48"/></g>
<g transform="translate(0 2761)"><path class="gl" d="M60 0H387"/><rect class="utr" x="62" y="-24" width="13" height="48"/><rect class="cds" x="75" y="-24" width="207" height="48"/><rect class="cds" x="302" y="-24" width="32" height="48"/><rect class="utr" x="334" y="-24" width="51" height="48"/></g>
<g transform="translate(0 2831.9)"><path class="gl" d="M60 0H204"/><rect class="cds" x="62" y="-24" width="57" height="48"/><rect class="cds" x="126" y="-24" width="76" height="48"/></g>
<g transform="translate(0 2902.8)"><path class="gl" d="M60 0H396"/><rect class="utr" x="62" y="-24" width="15" height="48"/><rect class="cds" x="77" y="-24" width="251" height="48"/><rect class="utr" x="328" y="-24" width="66" height="48"/></g>
<g transform="translate(0 2973.7)"><path class="gl" d="M60 0H310"/><rect class="cds" x="62" y="-24" width="76" height="48"/><rect class="cds" x="150" y="-24" width="94" height="48"/><rect class="cds" x="250" y="-24" width="58" height="48"/></g>
<g transform="translate(0 3044.6)"><path class="gl" d="M60 0H338"/><rect class="cds" x="62" y="-24" width="248" height="48"/><rect class="utr" x="310" y="-24" width="26" height="48"/></g>
<g transform="translate(0 3115.5)"><path class="gl" d="M60 0H326"/><rect class="cds" x="62" y="-24" width="245" height="48"/><rect class="utr" x="307" y="-24" width="17" height="48"/></g>
<g transform="translate(0 3186.4)"><path class="gl" d="M60 0H308"/><rect class="cds" x="62" y="-24" width="244" height="48"/></g>
<g transform="translate(0 3257.3)"><path class="gl" d="M60 0H222"/><rect class="cds" x="62" y="-24" width="158" height="48"/></g>
</g>

<g id="geneAxis">
<path class="ax" d="M1713 3352H3168M1713.3 3352V3392M1859.2 3352V3392M2004.1 3352V3392M2150 3352V3392M2294.9 3352V3392M2440.8 3352V3392M2585.7 3352V3392M2731.6 3352V3392M2877.6 3352V3392M3022.4 3352V3392M3168.4 3352V3392"/>
<g class="t" font-size="54" text-anchor="middle">
<text x="1713" y="3461">0</text><text x="1859" y="3461">1000</text><text x="2004" y="3461">2000</text><text x="2150" y="3461">3000</text><text x="2295" y="3461">4000</text><text x="2441" y="3461">5000</text><text x="2586" y="3461">6000</text><text x="2732" y="3461">7000</text><text x="2878" y="3461">8000</text><text x="3022" y="3461">9000</text><text x="3168" y="3461">10,000</text>
</g>
<text class="t" x="1703" y="3366" font-size="52" text-anchor="end">5'</text>
<text class="t" x="3180" y="3366" font-size="52">3'</text>
</g>

<g id="legendC">
<rect class="m1" x="3218" y="2027.7" width="141" height="40"/>
<rect class="m2" x="3218" y="2101.8" width="141" height="40"/>
<rect class="m3" x="3218" y="2174" width="141" height="40"/>
<rect class="m4" x="3218" y="2246.4" width="141" height="40"/>
<rect class="m5" x="3218" y="2328.6" width="141" height="40"/>
<rect class="m6" x="3218" y="2402.7" width="141" height="40"/>
<rect class="m7" x="3218" y="2467.9" width="141" height="40"/>
<rect class="m8" x="3218" y="2540.2" width="141" height="40"/>
<rect class="m9" x="3218" y="2617" width="141" height="40"/>
<rect class="m10" x="3218" y="2688.4" width="141" height="40"/>
<rect class="m11" x="3218" y="2762.5" width="141" height="40"/>
<rect class="m12" x="3218" y="2834" width="141" height="40"/>
<rect class="m13" x="3218" y="2907" width="141" height="40"/>
<rect class="m14" x="3218" y="2981" width="141" height="40"/>
<rect class="m15" x="3218" y="3052.7" width="141" height="40"/>
<rect class="cds" x="3218" y="3175.9" width="141" height="40"/>
<rect class="utr" x="3218" y="3241" width="141" height="40"/>
<g class="t" font-size="54">
<text x="3417" y="2066">Motif 1</text><text x="3417" y="2140">Motif 2</text><text x="3417" y="2212">Motif 3</text><text x="3417" y="2284">Motif 4</text><text x="3417" y="2367">Motif 5</text><text x="3417" y="2441">Motif 6</text><text x="3417" y="2506">Motif 7</text><text x="3417" y="2578">Motif 8</text><text x="3417" y="2655">Motif 9</text><text x="3417" y="2726">Motif 10</text><text x="3417" y="2801">Motif 11</text><text x="3417" y="2872">Motif 12</text><text x="3417" y="2945">Motif 13</text><text x="3417" y="3019">Motif 14</text><text x="3417" y="3091">Motif 15</text><text x="3417" y="3214">CDS</text><text x="3417" y="3279">UTR</text>
</g>
</g>
</svg>
